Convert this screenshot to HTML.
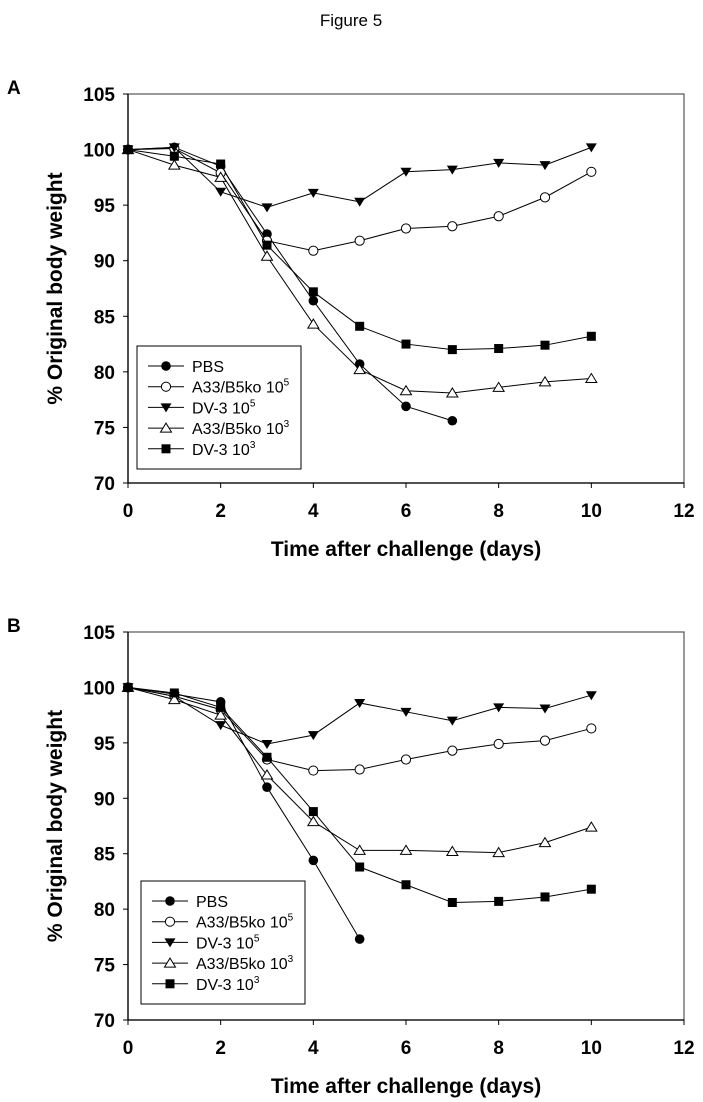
<!DOCTYPE html>
<html><head><meta charset="utf-8"><style>
body{margin:0;background:#fff;}
svg{display:block;font-family:"Liberation Sans",Arial,sans-serif;}
</style></head><body>
<svg id="fig" width="703" height="1102" viewBox="0 0 703 1102">
<text x="351" y="26" text-anchor="middle" font-size="17">Figure 5</text>
</svg>
<script>
const days = [0,1,2,3,4,5,6,7,8,9,10];
const xTicks = [0,2,4,6,8,10,12];
const yTicks = [70,75,80,85,90,95,100,105];
const seriesNames = ["PBS","A33/B5ko 10","DV-3 10","A33/B5ko 10","DV-3 10"];
const seriesSup = ["","5","5","3","3"];
const markers = ["circleFill","circleOpen","triDown","triUp","square"];
const aPBS = [100,100.2,98.5,92.4,86.4,80.7,76.9,75.6];
const aA33hi = [100,100.1,97.9,91.8,90.9,91.8,92.9,93.1,94.0,95.7,98.0];
const aDVhi = [100,100.2,96.2,94.8,96.1,95.3,98.0,98.2,98.8,98.6,100.2];
const aA33lo = [100,98.6,97.5,90.4,84.3,80.2,78.3,78.1,78.6,79.1,79.4];
const aDVlo = [100,99.4,98.7,91.4,87.2,84.1,82.5,82.0,82.1,82.4,83.2];
const bPBS = [100,99.4,98.7,91.0,84.4,77.3];
const bA33hi = [100,99.2,98.0,93.5,92.5,92.6,93.5,94.3,94.9,95.2,96.3];
const bDVhi = [100,99.2,96.6,94.9,95.7,98.6,97.8,97.0,98.2,98.1,99.3];
const bA33lo = [100,98.9,97.5,92.1,87.9,85.3,85.3,85.2,85.1,86.0,87.4];
const bDVlo = [100,99.5,98.2,93.7,88.8,83.8,82.2,80.6,80.7,81.1,81.8];

const NS="http://www.w3.org/2000/svg";
const svg=document.getElementById('fig');
function mk(tag,attrs,parent){const e=document.createElementNS(NS,tag);for(const k in attrs)e.setAttribute(k,attrs[k]);(parent||svg).appendChild(e);return e;}
function marker(g,type,x,y){
  let e;
  if(type==="circleFill") e=mk('circle',{cx:x,cy:y,r:4.8,fill:'#000'},g);
  else if(type==="circleOpen") e=mk('circle',{cx:x,cy:y,r:4.6,fill:'#fff',stroke:'#000','stroke-width':1},g);
  else if(type==="triDown") e=mk('polygon',{points:`${x-5.5},${y-4} ${x+5.5},${y-4} ${x},${y+5}`,fill:'#000'},g);
  else if(type==="triUp") e=mk('polygon',{points:`${x-5.5},${y+4} ${x+5.5},${y+4} ${x},${y-5}`,fill:'#fff',stroke:'#000','stroke-width':1},g);
  else e=mk('rect',{x:x-4.5,y:y-4.5,width:9,height:9,fill:'#000'},g);
  
  
}
function panel(label,top,bottom,legTop,series){
  const L=128,R=684;
  const X=v=>L+(v/12)*(R-L);
  const Y=v=>bottom-(v-70)/35*(bottom-top);
  const g=mk('g',{});
  
  
  const pl=mk('text',{x:7,y:top,'font-size':19,'font-weight':'bold'},g);pl.textContent=label;
  
  
  const frame=mk('rect',{x:L,y:top,width:R-L,height:bottom-top,fill:'none',stroke:'#555','stroke-width':1.2},g);
  
  
  mk('line',{x1:L,y1:top,x2:L,y2:bottom,stroke:'#000','stroke-width':1.3},g);
  mk('line',{x1:L,y1:bottom,x2:R,y2:bottom,stroke:'#000','stroke-width':1.3},g);
  yTicks.forEach(t=>{
    mk('line',{x1:L-5,y1:Y(t),x2:L,y2:Y(t),stroke:'#000'},g);
    const tx=mk('text',{x:L-13,y:Y(t)+7,'text-anchor':'end','font-size':19,'font-weight':'bold'},g);tx.textContent=t;
    
    
  });
  xTicks.forEach(t=>{
    mk('line',{x1:X(t),y1:bottom,x2:X(t),y2:bottom+5,stroke:'#000'},g);
    const tx=mk('text',{x:X(t),y:bottom+34,'text-anchor':'middle','font-size':19,'font-weight':'bold'},g);tx.textContent=t;
    
    
  });
  const xt=mk('text',{x:(L+R)/2,y:bottom+73,'text-anchor':'middle','font-size':21,'font-weight':'bold'},g);xt.textContent='Time after challenge (days)';
  
  
  const cy=(top+bottom)/2;
  const yt=mk('text',{x:62,y:cy,'text-anchor':'middle','font-size':21,'font-weight':'bold',transform:`rotate(-90 62 ${cy})`},g);yt.textContent='% Original body weight';
  
  
  series.forEach((vals,si)=>{
    const sg=mk('g',{},g);
    
    
    const pts=vals.map((v,i)=>X(days[i])+','+Y(v)).join(' ');
    mk('polyline',{points:pts,fill:'none',stroke:'#000','stroke-width':1},sg);
    vals.forEach((v,i)=>marker(sg,markers[si],X(days[i]),Y(v)));
  });
  const lg=mk('g',{},g);
  
  
  mk('rect',{x:legTop[0],y:legTop[1],width:164,height:123,fill:'#fff',stroke:'#000','stroke-width':1},lg);
  seriesNames.forEach((n,i)=>{
    const yy=legTop[1]+20+i*20.7;
    const x0=legTop[0];
    mk('line',{x1:x0+11,y1:yy,x2:x0+47,y2:yy,stroke:'#000'},lg);
    marker(lg,markers[i],x0+29,yy);
    const t=mk('text',{x:x0+55,y:yy+6,'font-size':16},lg);
    
    
    t.textContent=n;
    if(seriesSup[i]){const s=mk('tspan',{dy:-7,'font-size':10},t);s.textContent=seriesSup[i];}
  });
}
panel('A',94,483,[137,346],[aPBS,aA33hi,aDVhi,aA33lo,aDVlo]);
panel('B',632,1020,[141,881],[bPBS,bA33hi,bDVhi,bA33lo,bDVlo]);
</script>
</body></html>
